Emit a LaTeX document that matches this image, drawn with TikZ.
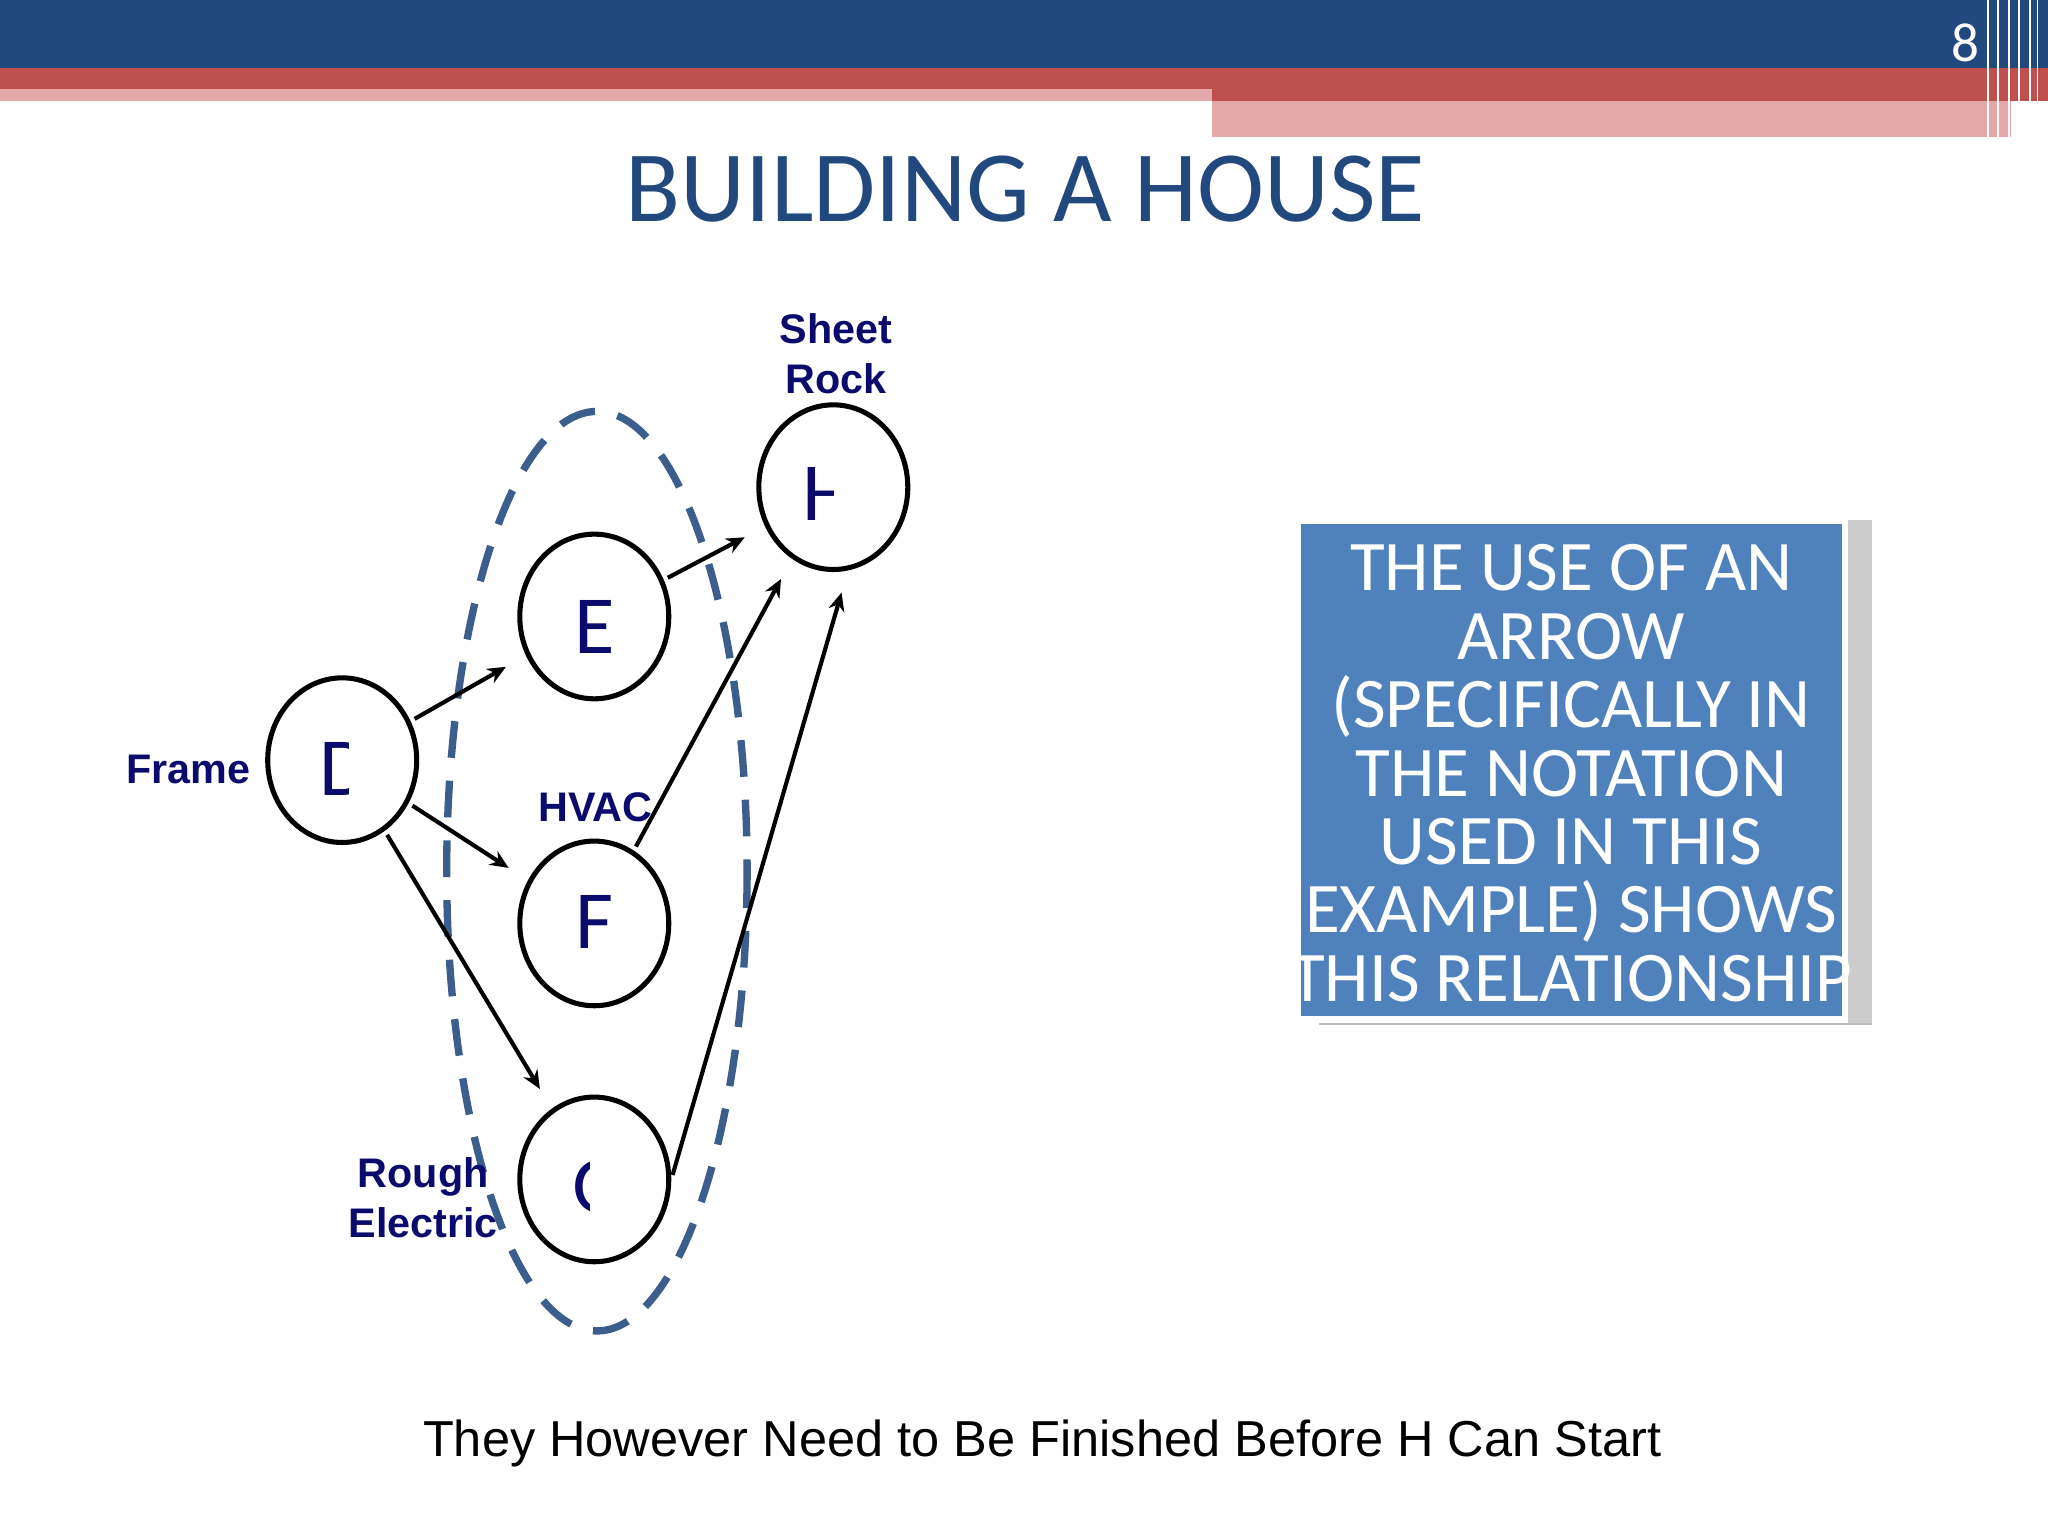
\documentclass[tikz,border=0pt]{standalone}
\usepackage{fontspec}
\setmainfont{Carlito}
\newfontfamily\arialf{Liberation Sans}
\usetikzlibrary{arrows.meta,shapes.geometric}
\definecolor{hdblue}{HTML}{22497D}
\definecolor{hdred}{HTML}{C0504D}
\definecolor{hdpink}{HTML}{E3A8A7}
\definecolor{navy}{HTML}{0B0B6E}
\definecolor{boxblue}{HTML}{4F81BD}
\definecolor{dashc}{HTML}{3B5E8C}
\tikzset{
 task/.style={draw,line width=1.1pt,ellipse,minimum width=1.14cm,minimum height=1.26cm,inner sep=0pt},
 lab/.style={font=\arialf\bfseries\fontsize{9}{11}\selectfont,text=navy,align=center},
 letter/.style={text=navy,font=\fontsize{18}{20}\selectfont},
 arr/.style={-{Stealth[length=4pt,width=3.5pt,open]},line width=0.9pt,shorten >=5pt,shorten <=1pt},
}
\begin{document}
\begin{tikzpicture}[x=0.01cm,y=-0.01cm]
\useasboundingbox (0,0) rectangle (1568,1176);
% header
\fill[hdblue] (0,0) rectangle (1568,52);
\fill[hdred] (0,52) rectangle (1568,68);
\fill[hdpink] (0,68) rectangle (928,77);
\fill[hdred] (928,68) rectangle (1568,77);
\fill[hdpink] (928,77) rectangle (1540,105);
\foreach \xx in {1522,1530,1538,1546,1554,1560}{\draw[white,line width=0.4pt] (\xx,0) -- (\xx,105);}
\node[text=white,font=\fontsize{12}{14}\selectfont] (pg) at (1505,33) {8};
\node[text=hdblue,font=\fontsize{22}{26}\selectfont] (title) at (785,145) {BUILDING A HOUSE};
% dashed ellipse
\draw[dashc,line width=1.6pt,dash pattern=on 8pt off 5pt] (457,667) ellipse [x radius=115, y radius=352];
% nodes
\node[task] (D) at (262,582) {};
\node[task] (E) at (455,472) {};
\node[task] (F) at (455,707) {};
\node[task] (G) at (455,903) {};
\node[task] (H) at (638,373) {};
\node[letter] at (455,480) {E};
\node[letter] at (455,706) {F};
\begin{scope}\clip (240,550) rectangle (267,630);
\node[letter] at (264,589) {D};\end{scope}
\begin{scope}\clip (615,340) rectangle (638,420);
\node[letter] at (634,378) {H};\end{scope}
\begin{scope}\clip (430,870) rectangle (451,950);
\node[letter] at (458,909) {G};\end{scope}
% labels
\node[lab] (l1) at (640,271) {Sheet\\Rock};
\node[lab] (l2) at (144,589) {Frame};
\node[lab] (l3) at (456,618) {HVAC};
\node[lab] (l4) at (324,917) {Rough\\Electric};
% arrows
\draw[arr] (D) -- (E);
\draw[arr] (D) -- (F);
\draw[arr] (D) -- (G);
\draw[arr] (E) -- (H.210);
\draw[arr] (F) -- (H.240);
\draw[arr] (G.east) -- (H.280);
% box
\fill[gray!40] (1415,398) rectangle (1433,785);
\draw[gray!50,line width=0.6pt] (1010,784) -- (1433,784);
\fill[boxblue] (996,401) rectangle (1410,778);
\node[text=white,font=\fontsize{15.5}{14.9}\selectfont,align=center] (bt) at (1203,592) {THE USE OF AN\\ARROW\\(SPECIFICALLY IN\\THE NOTATION\\USED IN THIS\\EXAMPLE) SHOWS\\THIS RELATIONSHIP};
\node[font=\arialf\fontsize{11}{13}\selectfont] (foot) at (798,1105) {They However Need to Be Finished Before H Can Start};
\end{tikzpicture}
\end{document}
